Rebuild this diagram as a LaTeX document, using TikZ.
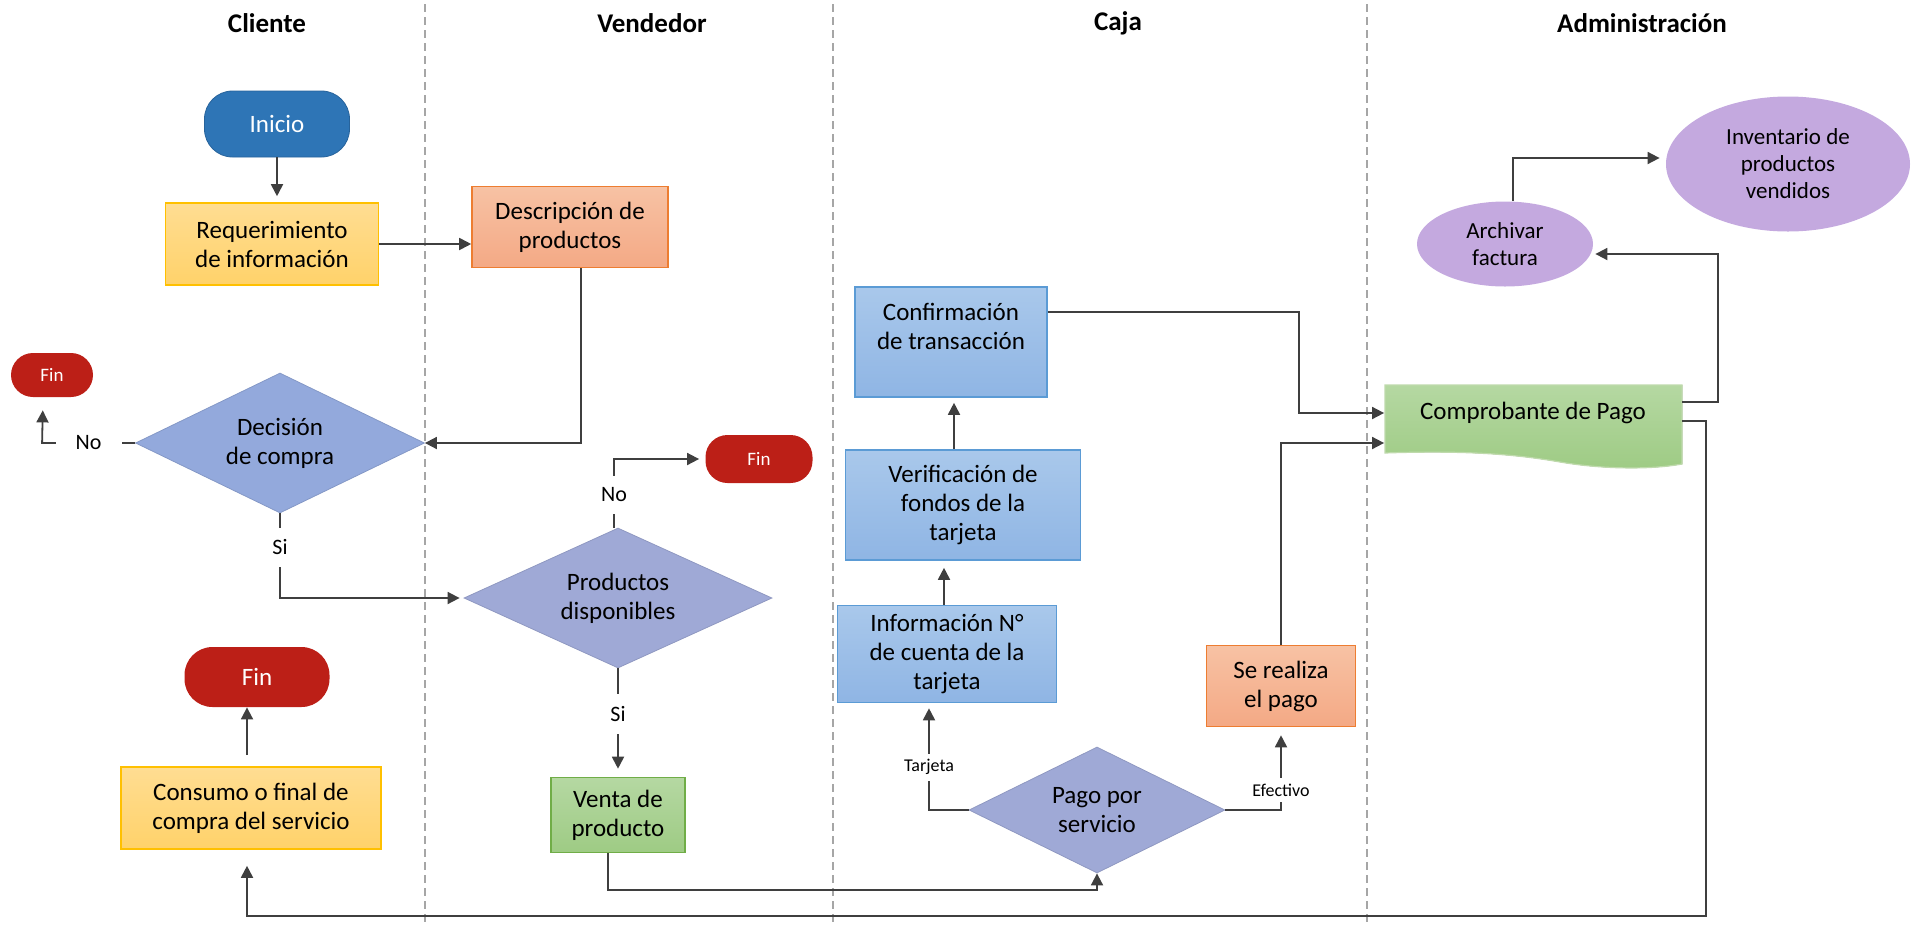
\documentclass[tikz,border=0pt]{standalone}
\usepackage{fontspec}
\setmainfont{Carlito}
\usetikzlibrary{shapes.geometric,arrows.meta}

\definecolor{azulIni}{HTML}{2E75B6}
\definecolor{rojoFin}{HTML}{BC1F17}
\definecolor{amTop}{HTML}{FFDD92}
\definecolor{amBot}{HTML}{FFD26A}
\definecolor{amBorde}{HTML}{FFC000}
\definecolor{naTop}{HTML}{F7C2A4}
\definecolor{naBot}{HTML}{F4A985}
\definecolor{naBorde}{HTML}{ED7D31}
\definecolor{azTop}{HTML}{A9C8EB}
\definecolor{azBot}{HTML}{8FB5E4}
\definecolor{azBorde}{HTML}{5B9BD5}
\definecolor{veTop}{HTML}{B5D8A2}
\definecolor{veBot}{HTML}{9ECB84}
\definecolor{veBorde}{HTML}{70AD47}
\definecolor{rombo}{HTML}{9FA9D6}
\definecolor{romboB}{HTML}{93A9DC}
\definecolor{lila}{HTML}{C4A9DF}
\definecolor{linea}{HTML}{3F3F3F}

\tikzset{
  txt/.style={align=center, font=\fontsize{12.5}{14.5}\selectfont},
  caja/.style={txt, draw, line width=0.8pt, inner sep=2pt},
  amarilla/.style={caja, draw=amBorde, top color=amTop, bottom color=amBot},
  naranja/.style={caja, draw=naBorde, top color=naTop, bottom color=naBot},
  azul/.style={caja, draw=azBorde, top color=azTop, bottom color=azBot},
  verde/.style={caja, draw=veBorde, top color=veTop, bottom color=veBot},
  decision/.style={txt, diamond, aspect=2, inner sep=1pt, fill=rombo, draw=rombo!90!black},
  fin/.style={fill=rojoFin, text=white, rounded corners=11pt, font=\fontsize{9.5}{11}\selectfont},
  nube/.style={txt, ellipse, fill=lila, inner sep=1pt, font=\fontsize{11.5}{13.5}\selectfont},
  titulo/.style={font=\fontsize{13.5}{16}\selectfont\bfseries},
  carril/.style={draw=gray!70, line width=0.6pt, dash pattern=on 4pt off 2.5pt},
  flecha/.style={draw=linea, line width=0.9pt, -{Triangle[length=6pt,width=6pt]}},
  etq/.style={fill=white, inner xsep=10pt, inner ysep=6pt, font=\fontsize{11}{13}\selectfont},
  etqc/.style={fill=white, inner sep=3pt, font=\fontsize{9}{11}\selectfont},
}

\begin{document}
\begin{tikzpicture}[x=0.5pt, y=-0.5pt]
  \useasboundingbox (0,0) rectangle (1919,927);
  % --- carriles ---
  \foreach \x in {425,833,1367} {
    \draw[carril] (\x,4) -- (\x,927);
  }
  % --- titulos ---
  \node[titulo] (tCli) at (267,23) {Cliente};
  \node[titulo] (tVen) at (652,23) {Vendedor};
  \node[titulo] (tCaj) at (1118,23) {Caja};
  \node[titulo] (tAdm) at (1642,23) {Administración};
  % --- cliente ---
  \node[txt, fill=azulIni, draw=azulIni!85!black, text=white, rounded corners=14pt,
        minimum width=72.5pt, minimum height=33pt] (inicio) at (277,124) {Inicio};
  \node[amarilla, minimum width=106.5pt, minimum height=41pt] (req) at (272,244) {Requerimiento\\de información};
  \node[fin, minimum width=41pt, minimum height=22pt] (finA) at (52,375) {Fin};
  \node[decision, fill=romboB, draw=romboB!90!black, minimum width=144.5pt, minimum height=70pt] (dec) at (280,443) {Decisión\\de compra};
  \node[fin, rounded corners=14pt, font=\fontsize{12.5}{14.5}\selectfont,
        minimum width=72.5pt, minimum height=30pt] (finC) at (257,677) {Fin};
  \node[amarilla, minimum width=130pt, minimum height=41pt] (consumo) at (251,808) {Consumo o final de\\compra del servicio};
  % --- vendedor ---
  \node[naranja, minimum width=98pt, minimum height=40.5pt] (desc) at (570,227) {Descripción de\\productos};
  \node[fin, minimum width=53.5pt, minimum height=24pt] (finB) at (759,459) {Fin};
  \node[decision, minimum width=154pt, minimum height=70pt] (prod) at (618,598) {Productos\\disponibles};
  \node[verde, minimum width=67pt, minimum height=37.5pt] (venta) at (618,815) {Venta de\\producto};
  % --- caja ---
  \node[azul, minimum width=96pt, minimum height=55pt] (conf) at (951,342) {};
  \node[txt] (confT) at (951,326) {Confirmación\\de transacción};
  \node[azul, minimum width=117.5pt, minimum height=55pt] (verif) at (963,505) {Verificación de\\fondos de la\\tarjeta};
  \node[azul, minimum width=109.5pt, minimum height=48.5pt] (info) at (947,654) {Información N°\\de cuenta de la\\tarjeta};
  \node[naranja, minimum width=74.5pt, minimum height=40.5pt] (pagoE) at (1281,686) {Se realiza\\el pago};
  \node[decision, minimum width=128pt, minimum height=63pt] (pago) at (1097,810) {Pago por\\servicio};
  % --- administracion ---
  \filldraw[draw=veBorde!45, line width=0.6pt, top color=veTop, bottom color=veBot]
    (1385,385) -- (1682,385) -- (1682,464)
    .. controls (1650,470) and (1600,469) .. (1560,462)
    .. controls (1520,455) and (1470,450) .. (1385,453) -- cycle;
  \node[txt, minimum width=148.5pt, minimum height=28pt] (comp) at (1533,413) {Comprobante de Pago};
  \node[nube, minimum width=88pt, minimum height=42.5pt] (archivar) at (1505,244) {Archivar\\factura};
  \node[nube, minimum width=122pt, minimum height=67.5pt] (inv) at (1788,164) {Inventario de\\productos\\vendidos};
  \coordinate (esqR) at (1706,916);
  % --- conectores ---
  \draw[flecha, shorten >=3pt] (inicio.south) -- (inicio.south |- req.north);
  \draw[flecha] (req.east) -- (req.east -| desc.west);
  \draw[flecha] ([xshift=5.5pt]desc.south) |- (dec.east);
  \draw[flecha, shorten >=6.5pt] (dec.west) -- node[etq]{No} ++(-93,0) -- ([xshift=-4.5pt]finA.south);
  \draw[flecha, shorten >=2pt] (dec.south) |- node[etq, pos=0.2]{Si} (prod.west);
  \draw[flecha, shorten >=3pt] ([xshift=-2pt]prod.north) |- node[etq, pos=0.24]{No} (finB.west);
  \draw[flecha, shorten >=4pt] (prod.south) -- node[etq, pos=0.42]{Si} (venta.north);
  \draw[flecha] ([xshift=-5pt]venta.south) -- ++(0,37) -| (pago.south);
  \draw[flecha, shorten >=2.5pt] (pago.west) -| node[etqc, pos=0.7]{Tarjeta} ([xshift=-9pt]info.south);
  \draw[flecha, shorten >=4pt] (pago.east) -| node[etqc, pos=0.62]{Efectivo} (pagoE.south);
  \draw[flecha, shorten >=3.5pt] ([xshift=-1.5pt]info.north) -- ([xshift=-1.5pt]info.north |- verif.south);
  \draw[flecha, shorten >=2.5pt] ([xshift=1.5pt]conf.south |- verif.north) -- ([xshift=1.5pt]conf.south);
  \draw[flecha] ([yshift=15pt]conf.east) -- ++(251,0) |- (comp.west);
  \draw[flecha] (pagoE.north) |- ([yshift=-15pt]comp.west);
  \draw[flecha, shorten >=1pt] ([yshift=5.5pt]comp.east) -- ++(36,0) |- ([yshift=-5pt]archivar.east);
  \draw[flecha, shorten >=3pt] ([xshift=4pt]archivar.north) |- ([yshift=3pt]inv.west);
  \draw[flecha, shorten >=8pt] ([yshift=-4pt]comp.east) -| (esqR) -| ([xshift=-2pt]consumo.south);
  \draw[flecha, shorten <=5.5pt] ([xshift=-2pt]consumo.north) -- ([xshift=-2pt]consumo.north |- finC.south);
\end{tikzpicture}
\end{document}
